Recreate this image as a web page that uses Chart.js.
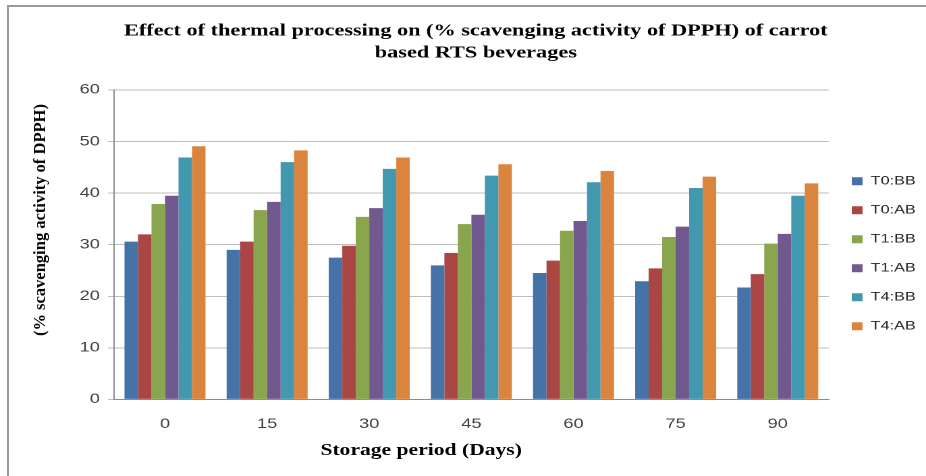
<!DOCTYPE html>
<html>
<head>
<meta charset="utf-8">
<script src="https://cdn.jsdelivr.net/npm/chart.js@4"></script>
<style>
  html, body { margin: 0; padding: 0; background: #ffffff; overflow: hidden; }
  body { width: 926px; height: 476px; position: relative; }
  #frame { position: absolute; left: 7px; top: 5px; width: 930px; height: 480px;
           border-top: 2px solid #9a9a9a; border-left: 2px solid #9a9a9a; }
  #stretch { position: absolute; left: 0; top: 0; width: 686px; height: 476px;
             transform: scaleX(1.34985); transform-origin: 0 0; }
  #chart { position: absolute; left: 0; top: 0; }
  #xTitle { position: absolute; left: 312px; top: 440px; transform: translateX(-50%);
            font: bold 16px "Liberation Serif", serif; line-height: 20px; color: #000; white-space: nowrap; }
  #yTitle { position: absolute; left: 40px; top: 220px; transform: translate(-50%, -50%) rotate(-90deg);
            font: bold 16.5px "Liberation Serif", serif; line-height: 20px; color: #000; white-space: nowrap; }
</style>
</head>
<body>
<div id="frame"></div>
<div id="stretch">
  <canvas id="chart" width="686" height="476" style="width:686px;height:476px"></canvas>
  <div id="xTitle">Storage period (Days)</div>
</div>
<div id="yTitle">(% scavenging activity of DPPH)</div>
<script>
// ---- data ----
const categories = ['0', '15', '30', '45', '60', '75', '90'];
const seriesNames = ['T0:BB', 'T0:AB', 'T1:BB', 'T1:AB', 'T4:BB', 'T4:AB'];
const T0_BB = [30.6, 29.0, 27.5, 26.0, 24.5, 22.9, 21.7];
const T0_AB = [32.0, 30.6, 29.8, 28.4, 26.9, 25.4, 24.3];
const T1_BB = [37.9, 36.7, 35.4, 34.0, 32.7, 31.5, 30.2];
const T1_AB = [39.5, 38.3, 37.1, 35.8, 34.6, 33.5, 32.1];
const T4_BB = [46.9, 46.0, 44.7, 43.4, 42.1, 41.0, 39.5];
const T4_AB = [49.1, 48.3, 46.9, 45.6, 44.3, 43.2, 41.9];
const yTicks = [0, 10, 20, 30, 40, 50, 60];
const titleLines = ['Effect of thermal processing on (% scavenging activity of DPPH) of carrot', 'based RTS beverages'];

const seriesValues = [T0_BB, T0_AB, T1_BB, T1_AB, T4_BB, T4_AB];
const seriesColors = ['#4572A7', '#AA4643', '#89A54E', '#71588F', '#4198AF', '#DB843D'];

const datasets = seriesNames.map((name, i) => ({
  label: name,
  data: seriesValues[i],
  backgroundColor: seriesColors[i],
  borderWidth: 0,
  categoryPercentage: 0.793,
  barPercentage: 1.0
}));

new Chart(document.getElementById('chart'), {
  type: 'bar',
  data: { labels: categories, datasets },
  options: {
    responsive: false,
    animation: false,
    devicePixelRatio: 2,
    layout: { padding: { left: 19, right: 0, top: 6, bottom: 26.4 } },
    plugins: {
      title: {
        display: true,
        text: titleLines,
        color: '#000000',
        font: { family: '"Liberation Serif", serif', size: 16.5, weight: 'bold', lineHeight: 1.333 },
        padding: { top: 14, bottom: 26 }
      },
      legend: {
        position: 'right',
        align: 'center',
        maxWidth: 72,
        title: { display: true, text: '', font: { size: 10, lineHeight: 1.2 }, padding: { top: 2, bottom: 38 } },
        labels: {
          boxWidth: 8,
          boxHeight: 8,
          padding: 17,
          color: '#262626',
          font: { family: '"Liberation Sans", Arial, sans-serif', size: 12 }
        }
      },
      tooltip: { enabled: false }
    },
    scales: {
      x: {
        grid: { display: false, drawTicks: false },
        border: { display: true, color: '#8c8c8c', width: 1 },
        ticks: {
          color: '#404040',
          padding: 17,
          font: { family: '"Liberation Sans", Arial, sans-serif', size: 13.5 }
        }
      },
      y: {
        min: 0,
        max: 60,
        afterBuildTicks: (scale) => { scale.ticks = yTicks.map(v => ({ value: v })); },
        afterFit: (scale) => { scale.width = 65.4; },
        grid: { color: '#bdbdbd', lineWidth: 1, tickLength: 4.5, drawTicks: true },
        border: { display: true, color: '#8c8c8c', width: 1 },
        ticks: {
          color: '#404040',
          padding: 5.9,
          font: { family: '"Liberation Sans", Arial, sans-serif', size: 13.5 }
        }
      }
    }
  }
});
</script>
</body>
</html>
